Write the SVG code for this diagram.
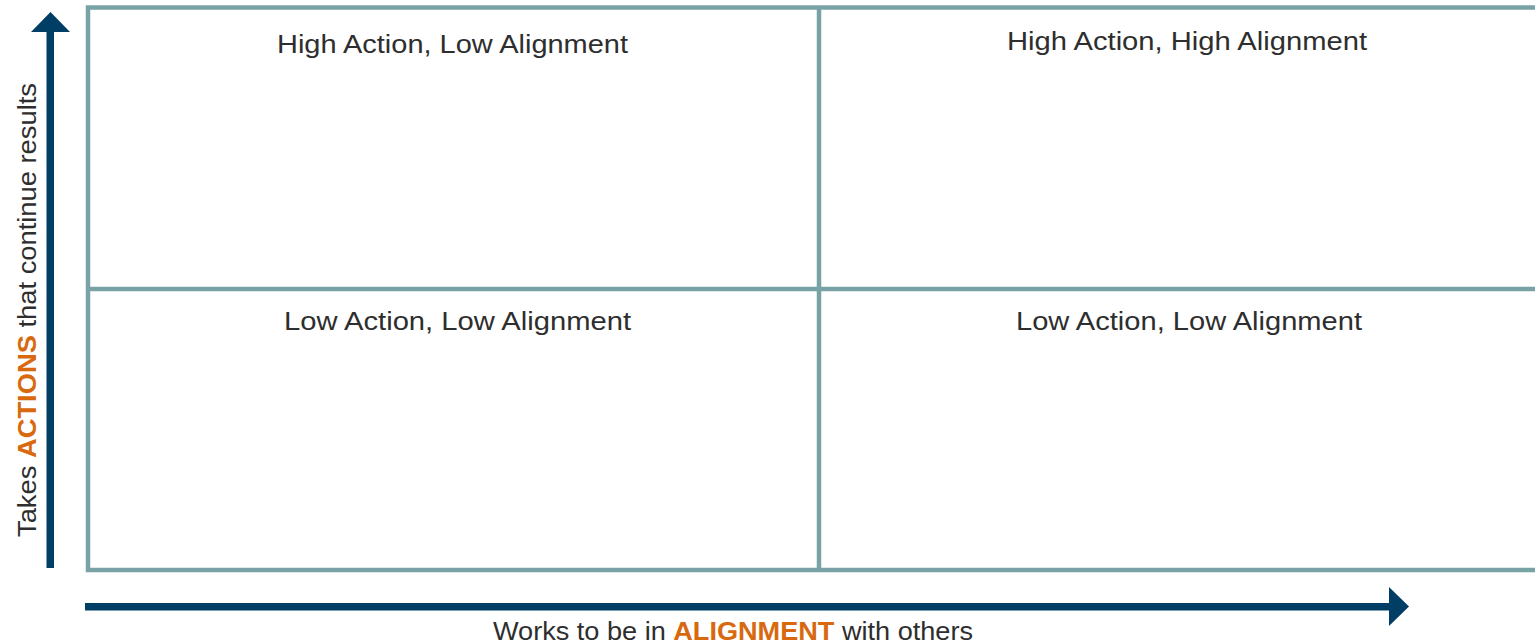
<svg xmlns="http://www.w3.org/2000/svg" width="1535" height="643" viewBox="0 0 1535 643">
<style>
.q{font-family:"Liberation Sans",Arial,sans-serif;font-size:25px;fill:#2e2e2e}
.ax{font-family:"Liberation Sans",Arial,sans-serif;font-size:26px;fill:#2e2e2e}
.hl{font-weight:bold;fill:#D8690F}
.grid{stroke:#78A2A6;stroke-width:4.5;fill:none}
.arr{fill:#003E66}
</style>
<rect width="1535" height="643" fill="#fff"/>
<g id="grid">
<path class="grid" d="M1540 7.5 H88 V570 H1540 M819 7.5 V570 M88 289 H1540"/>
</g>
<g id="q-hal"><text class="q" x="277" y="53" textLength="351" lengthAdjust="spacingAndGlyphs">High Action, Low Alignment</text></g>
<g id="q-hah"><text class="q" x="1007" y="50" textLength="360" lengthAdjust="spacingAndGlyphs">High Action, High Alignment</text></g>
<g id="q-lal1"><text class="q" x="284" y="330" textLength="347" lengthAdjust="spacingAndGlyphs">Low Action, Low Alignment</text></g>
<g id="q-lal2"><text class="q" x="1016" y="330" textLength="346" lengthAdjust="spacingAndGlyphs">Low Action, Low Alignment</text></g>
<g id="connectors">
<rect class="arr" x="46.5" y="30" width="7.5" height="538"/>
<polygon class="arr" points="31,32 50.5,12 70,32"/>
<rect class="arr" x="85" y="603" width="1306" height="7.5"/>
<polygon class="arr" points="1389,587 1409,606.5 1389,626"/>
</g>
<g id="label-y"><text class="ax" transform="translate(36,537) rotate(-90)" textLength="454" lengthAdjust="spacingAndGlyphs">Takes <tspan class="hl">ACTIONS</tspan> that continue results</text></g>
<g id="label-x"><text class="ax" x="493" y="640" textLength="480" lengthAdjust="spacingAndGlyphs">Works to be in <tspan class="hl">ALIGNMENT</tspan> with others</text></g>
</svg>
